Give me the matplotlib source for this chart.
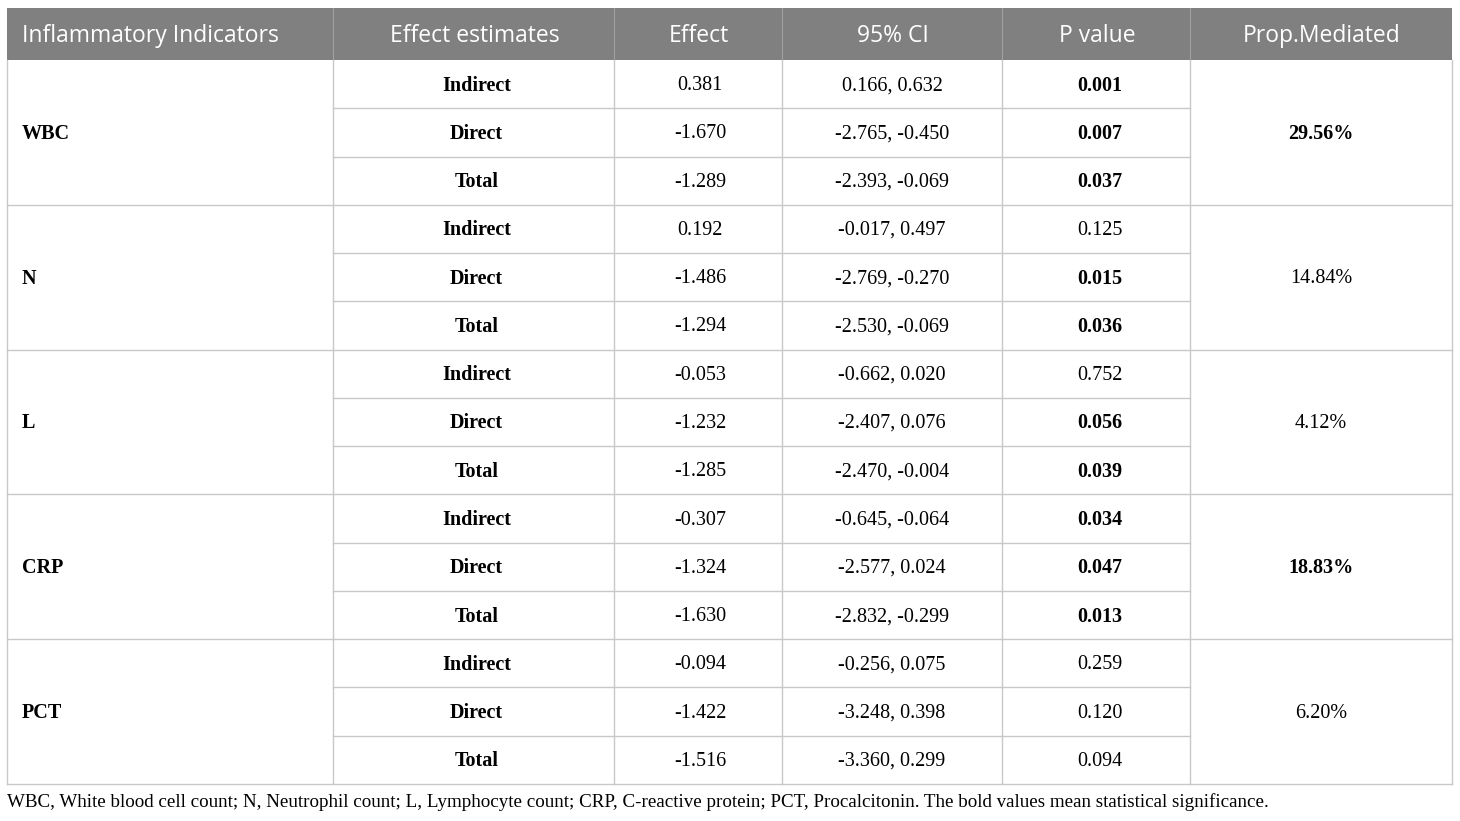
import matplotlib
matplotlib.use("Agg")
import matplotlib.pyplot as plt
from matplotlib.patches import Rectangle

# ---- data ----
headers = ["Inflammatory Indicators", "Effect estimates", "Effect", "95% CI", "P value", "Prop.Mediated"]
indicators = ["WBC", "N", "L", "CRP", "PCT"]
estimates = ["Indirect", "Direct", "Total"]
effects = [
    ["0.381", "-1.670", "-1.289"],
    ["0.192", "-1.486", "-1.294"],
    ["-0.053", "-1.232", "-1.285"],
    ["-0.307", "-1.324", "-1.630"],
    ["-0.094", "-1.422", "-1.516"],
]
cis = [
    ["0.166, 0.632", "-2.765, -0.450", "-2.393, -0.069"],
    ["-0.017, 0.497", "-2.769, -0.270", "-2.530, -0.069"],
    ["-0.662, 0.020", "-2.407, 0.076", "-2.470, -0.004"],
    ["-0.645, -0.064", "-2.577, 0.024", "-2.832, -0.299"],
    ["-0.256, 0.075", "-3.248, 0.398", "-3.360, 0.299"],
]
pvals = [
    ["0.001", "0.007", "0.037"],
    ["0.125", "0.015", "0.036"],
    ["0.752", "0.056", "0.039"],
    ["0.034", "0.047", "0.013"],
    ["0.259", "0.120", "0.094"],
]
p_bold = [
    [True, True, True],
    [False, True, True],
    [False, True, True],
    [True, True, True],
    [False, False, False],
]
prop_mediated = ["29.56%", "14.84%", "4.12%", "18.83%", "6.20%"]
prop_bold = [True, False, False, True, False]
footnote = ("WBC, White blood cell count; N, Neutrophil count; L, Lymphocyte count; CRP, C-reactive protein; "
            "PCT, Procalcitonin. The bold values mean statistical significance.")

# ---- layout (pixels) ----
W, H = 1460, 821
col_x = [7, 333, 614, 782, 1002, 1190, 1452]
top, head_bot, bottom = 8, 60, 784
n_rows = len(indicators) * len(estimates)
row_h = (bottom - head_bot) / n_rows
dy = 1.5  # small downward text offset

header_bg = "#808080"
grid_c = "#c8c8c8"
serif = ["Liberation Serif", "DejaVu Serif"]
sans = ["Open Sans", "DejaVu Sans"]
body_fs = 14.5
head_fs = 16.5

fig = plt.figure(figsize=(W / 100, H / 100), dpi=100)
ax = fig.add_axes([0, 0, 1, 1])
ax.set_xlim(0, W)
ax.set_ylim(H, 0)
ax.axis("off")

# header
ax.add_patch(Rectangle((col_x[0], top), col_x[-1] - col_x[0], head_bot - top,
                       facecolor=header_bg, edgecolor="none"))
for i, h in enumerate(headers):
    if i == 0:
        ax.text(col_x[0] + 15, (top + head_bot) / 2 + 1.5, h, ha="left", va="center",
                color="white", fontsize=head_fs, family=sans)
    else:
        ax.text((col_x[i] + col_x[i + 1]) / 2 + 1, (top + head_bot) / 2 + 1.5, h, ha="center",
                va="center", color="white", fontsize=head_fs, family=sans)
for x in col_x[1:-1]:
    ax.plot([x, x], [top, head_bot], color="#a0a0a0", lw=0.8)

# body
for g, ind in enumerate(indicators):
    g_top = head_bot + g * 3 * row_h
    g_bot = g_top + 3 * row_h
    g_mid = (g_top + g_bot) / 2 + dy
    ax.text(col_x[0] + 15, g_mid, ind, ha="left", va="center", fontsize=body_fs,
            family=serif, fontweight="bold")
    ax.text((col_x[5] + col_x[6]) / 2, g_mid, prop_mediated[g], ha="center", va="center",
            fontsize=body_fs, family=serif, fontweight="bold" if prop_bold[g] else "normal")
    for r in range(3):
        yc = g_top + (r + 0.5) * row_h + dy
        ax.text((col_x[1] + col_x[2]) / 2 + 3, yc, estimates[r], ha="center", va="center",
                fontsize=body_fs, family=serif, fontweight="bold")
        ax.text((col_x[2] + col_x[3]) / 2 + 2, yc, effects[g][r], ha="center", va="center",
                fontsize=body_fs, family=serif)
        ax.text((col_x[3] + col_x[4]) / 2, yc, cis[g][r], ha="center", va="center",
                fontsize=body_fs, family=serif)
        ax.text((col_x[4] + col_x[5]) / 2 + 4, yc, pvals[g][r], ha="center", va="center",
                fontsize=body_fs, family=serif,
                fontweight="bold" if p_bold[g][r] else "normal")
        if r > 0:
            ax.plot([col_x[1], col_x[5]], [g_top + r * row_h] * 2, color=grid_c, lw=1.0)
    if g > 0:
        ax.plot([col_x[0], col_x[-1]], [g_top, g_top], color=grid_c, lw=1.0)

# vertical lines in body
for x in col_x:
    ax.plot([x, x], [head_bot, bottom], color=grid_c, lw=1.0)
ax.plot([col_x[0], col_x[-1]], [bottom, bottom], color=grid_c, lw=1.0)

# footnote
ax.text(col_x[0], 802, footnote, ha="left", va="center", fontsize=13.7, family=serif)

fig.savefig("out.png", dpi=100)
